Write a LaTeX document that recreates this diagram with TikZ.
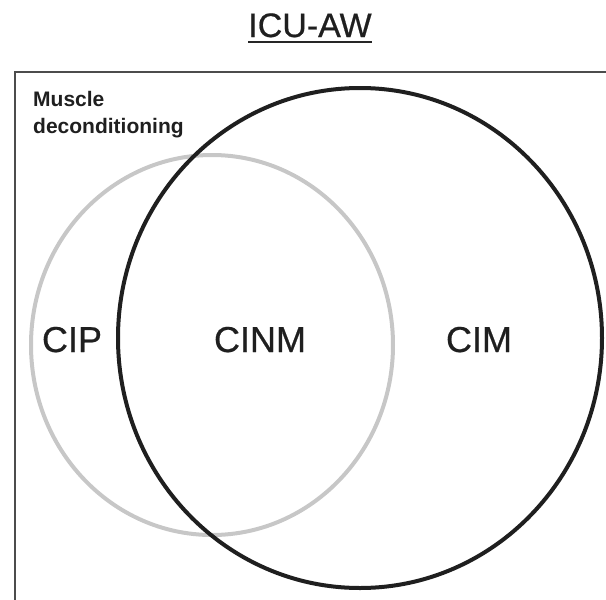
\documentclass[tikz,border=0pt]{standalone}
\usepackage{fontspec}
\setmainfont{Liberation Sans}
\newfontfamily\heavysans[FakeBold=0.6]{Liberation Sans}
\begin{document}
\begin{tikzpicture}[x=1pt,y=-1pt,
  every node/.style={inner sep=0pt, text=black!88},
  label big/.style={font=\heavysans\fontsize{36}{40}\selectfont, anchor=base},
  small bold/.style={font=\fontsize{21}{25}\selectfont\bfseries, anchor=base west},
  framebox/.style={draw=black!70, line width=2pt},
  cipring/.style={draw=black!22, line width=4pt},
  cimring/.style={draw=black!88, line width=4pt}]
  \useasboundingbox (0,0) rectangle (606,600);
  \clip (0,0) rectangle (606,600);

  % title with underline
  \node[font=\heavysans\fontsize{34}{38}\selectfont, anchor=base] (title) at (310,37) {ICU-AW};
  \draw[line width=2.2pt, black!85] ([yshift=-5pt]title.base west) -- ([yshift=-5pt]title.base east);

  % surrounding frame (runs off the right and bottom)
  \draw[framebox] (615,72) -- (15,72) -- (15,610);

  % overlapping rings
  \draw[cipring] (212,345) ellipse [x radius=181, y radius=190];
  \draw[cimring] (360,338) ellipse [x radius=242, y radius=250];

  % labels
  \node[small bold] (mus) at (33,106) {Muscle};
  \node[small bold] (dec) at (33,133) {deconditioning};
  \node[label big] (cip)  at (72,352)  {CIP};
  \node[label big] (cinm) at (260,352) {CINM};
  \node[label big] (cim)  at (479,352) {CIM};
\end{tikzpicture}
\end{document}
